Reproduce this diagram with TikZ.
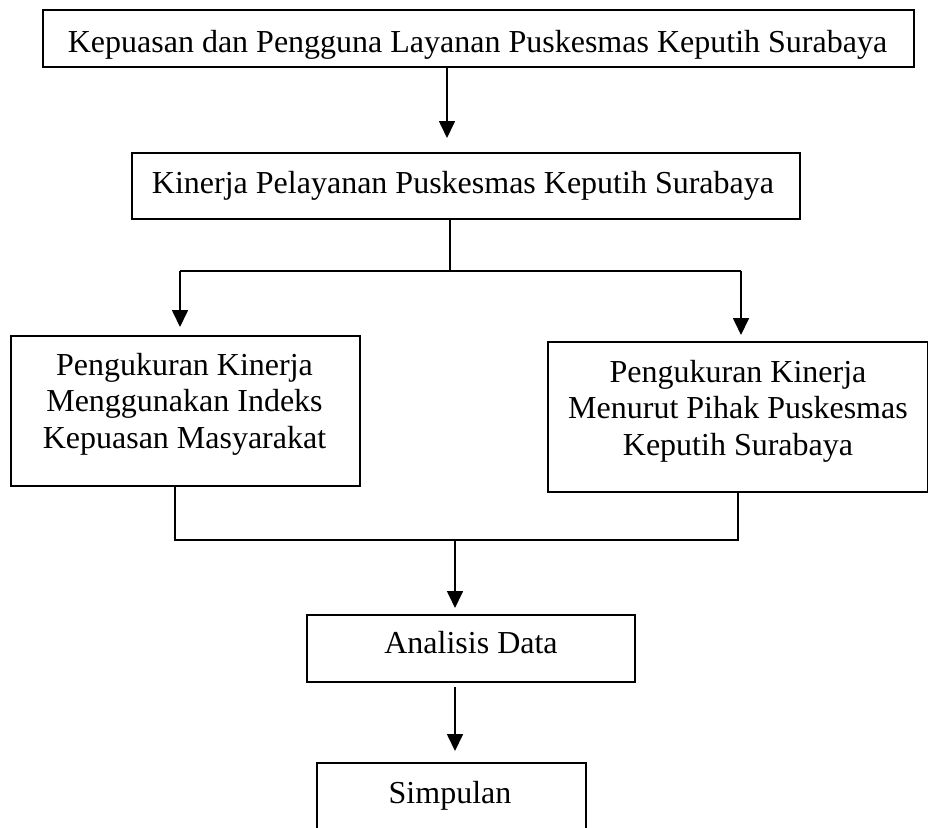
\documentclass[tikz,border=0pt]{standalone}
\usepackage{fontspec}
\setmainfont{Liberation Serif}
\usetikzlibrary{arrows.meta}
\begin{document}
\begin{tikzpicture}[x=1pt,y=-1pt,
  box/.style={draw, line width=1.7pt, rectangle, inner sep=0pt, anchor=north west},
  txt/.style={inner sep=0pt, anchor=base, align=center, font=\fontsize{32}{36.5}\selectfont},
  conn/.style={line width=1.7pt},
  arr/.style={line width=1.7pt, -{Triangle[length=17pt,width=16pt]}}]
\useasboundingbox (0,0) rectangle (928,827);
% boxes
\node[box, minimum width=871pt, minimum height=57pt] (b1) at (42,9) {};
\node[box, minimum width=668pt, minimum height=66pt] (b2) at (131,152) {};
\node[box, minimum width=349pt, minimum height=150pt] (b3) at (10,335) {};
\node[box, minimum width=380pt, minimum height=150pt] (b4) at (547,341) {};
\node[box, minimum width=328pt, minimum height=67pt] (b5) at (306,614) {};
\node[box, minimum width=269pt, minimum height=90pt] (b6) at (316,762) {};
% texts
\node[txt] (t1) at (477.5,52) {Kepuasan dan Pengguna Layanan Puskesmas Keputih Surabaya};
\node[txt] (t2) at (463,193) {Kinerja Pelayanan Puskesmas Keputih Surabaya};
\node[txt] (t3) at (184.5,448) {Pengukuran Kinerja\\Menggunakan Indeks\\Kepuasan Masyarakat};
\node[txt] (t4) at (738,455) {Pengukuran Kinerja\\Menurut Pihak Puskesmas\\Keputih Surabaya};
\node[txt] (t5) at (471,653) {Analisis Data};
\node[txt] (t6) at (450,803) {Simpulan};
% junction coordinates
\coordinate (c1) at (447,66);
\coordinate (j1) at (450,271);
\coordinate (jl) at (180,271);
\coordinate (jr) at (741,271);
\coordinate (kl) at (175,540);
\coordinate (kr) at (738,540);
\coordinate (km) at (455,540);
% connectors
\draw[arr, shorten >=14pt] (b1.south -| c1) -- (b2.north -| c1);
\draw[conn] (b2.south -| j1) -- (j1);
\draw[conn] (jl) -- (jr);
\draw[arr, shorten >=8pt] (jl) -- (b3.north -| jl);
\draw[arr, shorten >=6pt] (jr) -- (b4.north -| jr);
\draw[conn] (b3.south -| kl) -- (kl) -- (kr) -- (b4.south -| kr);
\draw[arr, shorten >=6pt] (km) -- (b5.north -| km);
\draw[arr, shorten <=4pt, shorten >=11pt] (b5.south -| km) -- (b6.north -| km);
\end{tikzpicture}
\end{document}
